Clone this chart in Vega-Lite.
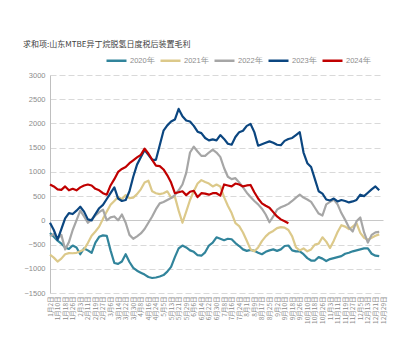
{
  "$schema": "https://vega.github.io/schema/vega-lite/v6.json",
  "width": 333,
  "height": 218,
  "autosize": {"type": "none"},
  "padding": {"left": 50, "top": 75, "right": 22, "bottom": 48},
  "background": "white",
  "config": {"view": {"stroke": null}},
  "title": {
    "text": "求和项:山东MTBE异丁烷脱氢日度税后装置毛利",
    "anchor": "start",
    "frame": "group",
    "dx": -27,
    "offset": 0,
    "fontSize": 8,
    "font": "Noto Sans CJK SC",
    "fontWeight": "normal",
    "color": "#404040"
  },
  "data": {
    "values": [
      {"d": "1月2日", "2020年": -260, "2021年": -710, "2022年": -330, "2023年": -50, "2024年": 740},
      {"d": "1月6日", "2020年": -340, "2021年": -770, "2022年": -280, "2023年": -200, "2024年": 700},
      {"d": "1月10日", "2020年": -420, "2021年": -850, "2022年": -380, "2023年": -400, "2024年": 640},
      {"d": "1月14日", "2020年": -480, "2021年": -790, "2022年": -300, "2023年": -180, "2024年": 630},
      {"d": "1月18日", "2020年": -560, "2021年": -700, "2022年": -600, "2023年": 40, "2024年": 700},
      {"d": "1月22日", "2020年": -590, "2021年": -676, "2022年": -450, "2023年": 150, "2024年": 620},
      {"d": "1月26日", "2020年": -520, "2021年": -680, "2022年": -200, "2023年": 130, "2024年": 650},
      {"d": "1月30日", "2020年": -560, "2021年": -670, "2022年": 0, "2023年": 200, "2024年": 620},
      {"d": "2月3日", "2020年": -700, "2021年": -640, "2022年": 200, "2023年": 280, "2024年": 680},
      {"d": "2月7日", "2020年": -580, "2021年": -600, "2022年": 80, "2023年": 180, "2024年": 720},
      {"d": "2月11日", "2020年": -620, "2021年": -470, "2022年": -50, "2023年": 20, "2024年": 740},
      {"d": "2月15日", "2020年": -670, "2021年": -320, "2022年": 20, "2023年": 0, "2024年": 720},
      {"d": "2月19日", "2020年": -460, "2021年": -230, "2022年": 100, "2023年": 130, "2024年": 650},
      {"d": "2月23日", "2020年": -340, "2021年": -130, "2022年": 170, "2023年": 250, "2024年": 620},
      {"d": "2月27日", "2020年": -310, "2021年": 30, "2022年": 220, "2023年": 320, "2024年": 560},
      {"d": "3月2日", "2020年": -320, "2021年": 180, "2022年": 0, "2023年": 440, "2024年": 530},
      {"d": "3月6日", "2020年": -620, "2021年": 320, "2022年": 60, "2023年": 560, "2024年": 720},
      {"d": "3月10日", "2020年": -880, "2021年": 400, "2022年": 80, "2023年": 680, "2024年": 850},
      {"d": "3月14日", "2020年": -900, "2021年": 480, "2022年": 0, "2023年": 450, "2024年": 1000},
      {"d": "3月18日", "2020年": -850, "2021年": 440, "2022年": 120, "2023年": 400, "2024年": 1060},
      {"d": "3月22日", "2020年": -700, "2021年": 520, "2022年": -50, "2023年": 420, "2024年": 1100},
      {"d": "3月26日", "2020年": -860, "2021年": 460, "2022年": -300, "2023年": 600, "2024年": 1180},
      {"d": "3月30日", "2020年": -980, "2021年": 470, "2022年": -380, "2023年": 900, "2024年": 1240},
      {"d": "4月3日", "2020年": -1040, "2021年": 540, "2022年": -330, "2023年": 1150, "2024年": 1300},
      {"d": "4月8日", "2020年": -1080, "2021年": 640, "2022年": -270, "2023年": 1300, "2024年": 1350},
      {"d": "4月12日", "2020年": -1120, "2021年": 780, "2022年": -180, "2023年": 1450, "2024年": 1480},
      {"d": "4月16日", "2020年": -1170, "2021年": 820, "2022年": -50, "2023年": 1350, "2024年": 1380},
      {"d": "4月20日", "2020年": -1190, "2021年": 600, "2022年": 80, "2023年": 1250, "2024年": 1250},
      {"d": "4月24日", "2020年": -1180, "2021年": 560, "2022年": 230, "2023年": 1250, "2024年": 1130},
      {"d": "4月28日", "2020年": -1160, "2021年": 540, "2022年": 350, "2023年": 1550, "2024年": 1120},
      {"d": "5月5日", "2020年": -1130, "2021年": 560, "2022年": 380, "2023年": 1850, "2024年": 1050},
      {"d": "5月9日", "2020年": -1060, "2021年": 600, "2022年": 420, "2023年": 1960, "2024年": 930},
      {"d": "5月13日", "2020年": -960, "2021年": 470, "2022年": 460, "2023年": 2040, "2024年": 780},
      {"d": "5月17日", "2020年": -760, "2021年": 490, "2022年": 520, "2023年": 2080, "2024年": 560},
      {"d": "5月21日", "2020年": -580, "2021年": 200, "2022年": 620, "2023年": 2300, "2024年": 580},
      {"d": "5月25日", "2020年": -520, "2021年": -50, "2022年": 740, "2023年": 2150, "2024年": 600},
      {"d": "5月29日", "2020年": -560, "2021年": 180, "2022年": 980, "2023年": 2060, "2024年": 520},
      {"d": "6月2日", "2020年": -620, "2021年": 420, "2022年": 1400, "2023年": 2040, "2024年": 590},
      {"d": "6月6日", "2020年": -650, "2021年": 600, "2022年": 1520, "2023年": 1950, "2024年": 610},
      {"d": "6月10日", "2020年": -720, "2021年": 760, "2022年": 1420, "2023年": 1830, "2024年": 480},
      {"d": "6月14日", "2020年": -730, "2021年": 830, "2022年": 1330, "2023年": 1800, "2024年": 560},
      {"d": "6月18日", "2020年": -660, "2021年": 790, "2022年": 1330, "2023年": 1700, "2024年": 550},
      {"d": "6月22日", "2020年": -520, "2021年": 760, "2022年": 1400, "2023年": 1650, "2024年": 530},
      {"d": "6月26日", "2020年": -460, "2021年": 700, "2022年": 1460, "2023年": 1670, "2024年": 560},
      {"d": "6月30日", "2020年": -350, "2021年": 740, "2022年": 1400, "2023年": 1650, "2024年": 560},
      {"d": "7月4日", "2020年": -380, "2021年": 700, "2022年": 1310, "2023年": 1760, "2024年": 510},
      {"d": "7月8日", "2020年": -410, "2021年": 480, "2022年": 1080, "2023年": 1680, "2024年": 740},
      {"d": "7月12日", "2020年": -380, "2021年": 300, "2022年": 900, "2023年": 1580, "2024年": 720},
      {"d": "7月16日", "2020年": -390, "2021年": 150, "2022年": 850, "2023年": 1560, "2024年": 700},
      {"d": "7月20日", "2020年": -470, "2021年": -60, "2022年": 870, "2023年": 1720, "2024年": 760},
      {"d": "7月24日", "2020年": -530, "2021年": -120, "2022年": 780, "2023年": 1820, "2024年": 740},
      {"d": "7月28日", "2020年": -600, "2021年": -250, "2022年": 680, "2023年": 1850, "2024年": 700},
      {"d": "8月1日", "2020年": -630, "2021年": -420, "2022年": 570, "2023年": 1950, "2024年": 720},
      {"d": "8月5日", "2020年": -610, "2021年": -600, "2022年": 480, "2023年": 1990, "2024年": 730},
      {"d": "8月9日", "2020年": -630, "2021年": -640, "2022年": 400, "2023年": 1820, "2024年": 580},
      {"d": "8月13日", "2020年": -670, "2021年": -560, "2022年": 330, "2023年": 1540, "2024年": 450},
      {"d": "8月17日", "2020年": -700, "2021年": -430, "2022年": 240, "2023年": 1570, "2024年": 350},
      {"d": "8月21日", "2020年": -650, "2021年": -330, "2022年": 120, "2023年": 1600, "2024年": 300},
      {"d": "8月25日", "2020年": -620, "2021年": -260, "2022年": -40, "2023年": 1630, "2024年": 260},
      {"d": "8月29日", "2020年": -600, "2021年": -220, "2022年": 80, "2023年": 1600, "2024年": 170},
      {"d": "9月2日", "2020年": -630, "2021年": -160, "2022年": 220, "2023年": 1560, "2024年": 80},
      {"d": "9月6日", "2020年": -600, "2021年": -140, "2022年": 270, "2023年": 1550, "2024年": 20},
      {"d": "9月10日", "2020年": -530, "2021年": -150, "2022年": 300, "2023年": 1640, "2024年": -20},
      {"d": "9月14日", "2020年": -520, "2021年": -200, "2022年": 340, "2023年": 1680, "2024年": -60},
      {"d": "9月18日", "2020年": -620, "2021年": -330, "2022年": 400, "2023年": 1700},
      {"d": "9月22日", "2020年": -640, "2021年": -560, "2022年": 470, "2023年": 1760},
      {"d": "9月26日", "2020年": -640, "2021年": -620, "2022年": 530, "2023年": 1820},
      {"d": "9月30日", "2020年": -700, "2021年": -580, "2022年": 470, "2023年": 1400},
      {"d": "10月10日", "2020年": -780, "2021年": -640, "2022年": 430, "2023年": 1180},
      {"d": "10月14日", "2020年": -830, "2021年": -600, "2022年": 380, "2023年": 1100},
      {"d": "10月18日", "2020年": -830, "2021年": -500, "2022年": 260, "2023年": 850},
      {"d": "10月22日", "2020年": -760, "2021年": -480, "2022年": 140, "2023年": 600},
      {"d": "10月26日", "2020年": -790, "2021年": -350, "2022年": 100, "2023年": 550},
      {"d": "10月30日", "2020年": -840, "2021年": -440, "2022年": 330, "2023年": 430},
      {"d": "11月3日", "2020年": -800, "2021年": -570, "2022年": 380, "2023年": 410},
      {"d": "11月7日", "2020年": -780, "2021年": -420, "2022年": 430, "2023年": 450},
      {"d": "11月11日", "2020年": -760, "2021年": -240, "2022年": 330, "2023年": 390},
      {"d": "11月15日", "2020年": -740, "2021年": -100, "2022年": 150, "2023年": 420},
      {"d": "11月19日", "2020年": -690, "2021年": -130, "2022年": 10, "2023年": 400},
      {"d": "11月23日", "2020年": -670, "2021年": -180, "2022年": -150, "2023年": 370},
      {"d": "11月27日", "2020年": -640, "2021年": -130, "2022年": -230, "2023年": 390},
      {"d": "12月1日", "2020年": -620, "2021年": -60, "2022年": -20, "2023年": 420},
      {"d": "12月5日", "2020年": -600, "2021年": -260, "2022年": 60, "2023年": 530},
      {"d": "12月9日", "2020年": -580, "2021年": -360, "2022年": -250, "2023年": 500},
      {"d": "12月13日", "2020年": -580, "2021年": -400, "2022年": -460, "2023年": 570},
      {"d": "12月17日", "2020年": -690, "2021年": -360, "2022年": -300, "2023年": 640},
      {"d": "12月21日", "2020年": -730, "2021年": -320, "2022年": -250, "2023年": 700},
      {"d": "12月25日", "2020年": -740, "2021年": -290, "2022年": -240, "2023年": 620}
    ]
  },
  "transform": [
    {"fold": ["2020年", "2021年", "2022年", "2023年", "2024年"], "as": ["s", "v"]}
  ],
  "mark": {"type": "line", "strokeWidth": 2.2, "strokeJoin": "round"},
  "encoding": {
    "x": {
      "field": "d",
      "type": "ordinal",
      "sort": null,
      "scale": {
        "type": "point",
        "padding": 0,
        "domain": ["1月2日","1月6日","1月10日","1月14日","1月18日","1月22日","1月26日","1月30日","2月3日","2月7日","2月11日","2月15日","2月19日","2月23日","2月27日","3月2日","3月6日","3月10日","3月14日","3月18日","3月22日","3月26日","3月30日","4月3日","4月8日","4月12日","4月16日","4月20日","4月24日","4月28日","5月5日","5月9日","5月13日","5月17日","5月21日","5月25日","5月29日","6月2日","6月6日","6月10日","6月14日","6月18日","6月22日","6月26日","6月30日","7月4日","7月8日","7月12日","7月16日","7月20日","7月24日","7月28日","8月1日","8月5日","8月9日","8月13日","8月17日","8月21日","8月25日","8月29日","9月2日","9月6日","9月10日","9月14日","9月18日","9月22日","9月26日","9月30日","10月10日","10月14日","10月18日","10月22日","10月26日","10月30日","11月3日","11月7日","11月11日","11月15日","11月19日","11月23日","11月27日","12月1日","12月5日","12月9日","12月13日","12月17日","12月21日","12月25日","12月29日"]
      },
      "axis": {
        "title": null,
        "values": ["1月2日","1月10日","1月18日","1月26日","2月3日","2月11日","2月19日","2月27日","3月6日","3月14日","3月22日","3月30日","4月8日","4月16日","4月24日","5月5日","5月13日","5月21日","5月29日","6月6日","6月14日","6月22日","6月30日","7月8日","7月16日","7月24日","8月1日","8月9日","8月17日","8月25日","9月2日","9月10日","9月18日","9月26日","10月10日","10月18日","10月26日","11月3日","11月11日","11月19日","11月27日","12月5日","12月13日","12月21日","12月29日"],
        "labelAngle": -90,
        "labelFontSize": 6.5,
        "labelFont": "Noto Sans CJK SC",
        "labelColor": "#8c8c8c",
        "labelPadding": 3,
        "labelOverlap": false,
        "ticks": false,
        "domain": false,
        "grid": false
      }
    },
    "y": {
      "field": "v",
      "type": "quantitative",
      "scale": {"domain": [-1500, 3000], "nice": false, "zero": false},
      "axis": {
        "title": null,
        "values": [-1500, -1000, -500, 0, 500, 1000, 1500, 2000, 2500, 3000],
        "format": "d",
        "labelOverlap": false,
        "labelBound": false,
        "labelFontSize": 7.5,
        "labelFont": "Liberation Sans",
        "labelColor": "#8c8c8c",
        "labelPadding": 5,
        "ticks": false,
        "domain": true,
        "domainColor": "#bfbfbf",
        "domainWidth": 1,
        "grid": true,
        "gridColor": {"condition": {"test": "datum.value === 0", "value": "#c8c8c8"}, "value": "#d9d9d9"},
        "gridDash": {"condition": {"test": "datum.value === 0", "value": []}, "value": [6, 3]},
        "gridWidth": 1
      }
    },
    "color": {
      "field": "s",
      "type": "nominal",
      "scale": {
        "domain": ["2020年", "2021年", "2022年", "2023年", "2024年"],
        "range": ["#31849B", "#DCC98A", "#A6A6A6", "#0B4680", "#C00000"]
      },
      "legend": {
        "title": null,
        "orient": "none",
        "legendX": 55,
        "legendY": -26,
        "direction": "horizontal",
        "symbolType": "stroke",
        "symbolSize": 400,
        "symbolStrokeWidth": 2.5,
        "labelFontSize": 7.5,
        "labelFont": "Liberation Sans",
        "labelColor": "#8c8c8c",
        "labelOffset": 2,
        "columnPadding": 0
      }
    }
  }
}
